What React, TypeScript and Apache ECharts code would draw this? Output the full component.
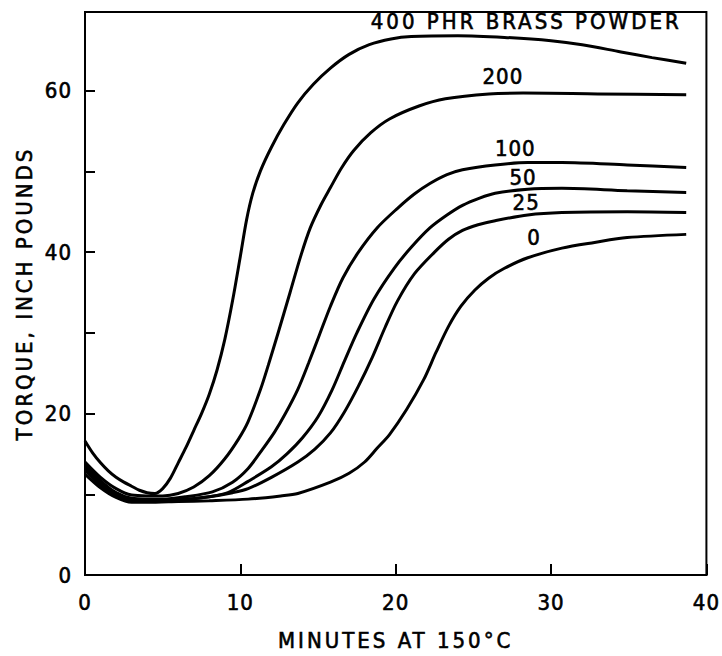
import React, { useEffect, useRef } from "react";
import * as echarts from "echarts";

// Tick values
const xTickValues = [0, 10, 20, 30, 40];
const yLabelValues = [0, 20, 40, 60];

// Curve data: [minutes, torque]
const phr400 = [
  [0, 16.6], [0.5, 15.1], [1, 13.9], [1.5, 12.9], [2, 12.1], [2.5, 11.5], [3, 11.0],
  [3.5, 10.5], [4, 10.2], [4.5, 10.1], [5, 10.7], [5.5, 12.0], [6, 13.9], [6.5, 15.8],
  [7, 17.9], [7.5, 20.0], [8, 22.4], [8.5, 25.4], [9, 29.2], [9.5, 34.0], [10, 39.5],
  [10.4, 44.0], [10.8, 47.3], [11.3, 50.1], [12, 53.0], [12.8, 55.8], [13.7, 58.5],
  [14.7, 60.8], [15.8, 62.8], [17, 64.5], [18.3, 65.7], [19.7, 66.4], [21, 66.7],
  [24, 66.8], [27, 66.6], [30, 66.2], [32, 65.7], [34.5, 64.8], [36.5, 64.1], [38.7, 63.4],
];
const phr200 = [
  [0, 14.0], [1, 12.1], [2, 10.7], [3, 9.9], [4, 9.8], [5, 9.8], [6, 10.1], [7, 10.9],
  [8, 12.3], [9, 14.4], [9.9, 16.9], [10.5, 19.0], [11.3, 23.0], [11.8, 26.0],
  [12.4, 29.8], [13.2, 35.0], [13.9, 39.6], [14.5, 43.0], [15.2, 45.9], [15.8, 48.0],
  [16.5, 50.4], [17.3, 52.6], [18.4, 54.8], [19.6, 56.5], [21.5, 58.1], [23.2, 59.0],
  [26, 59.6], [28.2, 59.7], [33, 59.6], [38.7, 59.5],
];
const phr100 = [
  [0, 13.7], [1, 11.7], [2, 10.2], [3, 9.5], [4, 9.4], [5, 9.4], [6.5, 9.7], [8.2, 10.3],
  [9.5, 11.5], [10.5, 13.2], [11.4, 15.5], [12.2, 17.7], [12.9, 20.0], [13.7, 23.0],
  [14.4, 26.3], [15.1, 29.8], [15.8, 33.3], [16.6, 36.8], [17.6, 40.0], [18.8, 43.0],
  [20.1, 45.4], [21.2, 47.2], [22.2, 48.5], [23.3, 49.6], [24.3, 50.2], [26.4, 50.8],
  [28.5, 51.1], [30.7, 51.1], [34.9, 50.8], [38.7, 50.5],
];
const phr50 = [
  [0, 13.4], [1, 11.4], [2, 10.0], [3, 9.3], [4, 9.2], [6, 9.3], [8, 9.7], [9.2, 10.2],
  [10.5, 11.6], [12, 13.4], [13, 15.0], [14, 17.0], [15, 19.6], [15.9, 22.9], [16.7, 26.5],
  [17.5, 30.0], [18.6, 34.2], [19.9, 38.0], [21, 40.6], [22.2, 43.0], [23.3, 44.6],
  [24.3, 45.8], [25.4, 46.7], [26.4, 47.3], [28.5, 47.8], [30.7, 47.9], [34.9, 47.6],
  [38.7, 47.4],
];
const phr25 = [
  [0, 13.0], [1, 11.1], [2, 9.8], [3, 9.1], [4, 9.1], [6, 9.3], [8, 9.7], [9.5, 10.2],
  [10.5, 10.7], [12, 12.1], [13.7, 14.0], [14.8, 15.6], [15.8, 17.6], [16.7, 20.2],
  [17.6, 23.4], [18.5, 27.0], [19.3, 30.6], [20.1, 33.9], [21.2, 37.3], [22.5, 40.0],
  [23.4, 41.6], [24.3, 42.7], [25.3, 43.4], [26.4, 43.9], [28.5, 44.6], [30.7, 44.9],
  [34.9, 45.0], [38.7, 44.9],
];
const phr0 = [
  [0, 12.5], [1, 10.8], [2, 9.6], [3, 9.0], [4, 9.0], [6, 9.1], [8, 9.2], [10.5, 9.4],
  [12.6, 9.8], [13.7, 10.1], [15.8, 11.5], [17, 12.6], [18, 14.0], [18.8, 15.7],
  [19.6, 17.4], [20.7, 20.5], [21.8, 24.2], [22.6, 27.6], [23.4, 30.8], [24.2, 33.3],
  [25.1, 35.3], [26, 36.8], [27, 38.0], [28.5, 39.3], [30.7, 40.5], [32.8, 41.2],
  [34.9, 41.8], [38.7, 42.2],
];

const curves = [phr400, phr200, phr100, phr50, phr25, phr0];
const curveNames = ["400", "200", "100", "50", "25", "0"];
const curveLabels = ["400 PHR BRASS POWDER", "200", "100", "50", "25", "0"];
const labelCoords = [
  [28.4, 68.6], [26.9, 61.7], [27.7, 52.8], [28.2, 49.2], [28.4, 46.1], [28.9, 41.8],
];

// Numbers use NUM_FONT; word texts use WORD_FONT (wider letter spacing via CSS)
const NUM_FONT = "DejaVu Sans Condensed";
const WORD_FONT = "'DejaVu Sans Condensed', 'Liberation Sans', sans-serif";

export default function App() {
  const ref = useRef<HTMLDivElement>(null);

  useEffect(() => {
    if (!ref.current) return;
    const chart = echarts.init(ref.current, null, { renderer: "svg" });
    const numText = { color: "#000", fontSize: 22, fontFamily: NUM_FONT };
    const wordText = { color: "#000", fontSize: 22, fontFamily: WORD_FONT };
    chart.setOption({
      animation: false,
      backgroundColor: "#fff",
      grid: {
        left: 85,
        right: 10,
        top: 12,
        bottom: 79,
        show: true,
        borderColor: "#000",
        borderWidth: 2,
        containLabel: false,
      },
      xAxis: {
        type: "value",
        min: xTickValues[0],
        max: xTickValues[xTickValues.length - 1],
        interval: 10,
        axisLine: { show: true, onZero: false, lineStyle: { color: "#000", width: 2 } },
        axisTick: { show: true, inside: true, length: 11, lineStyle: { color: "#000", width: 2 } },
        axisLabel: { ...numText, margin: 16 },
        splitLine: { show: false },
        name: "MINUTES AT 150°C",
        nameLocation: "middle",
        nameGap: 54,
        nameTextStyle: { ...wordText },
      },
      yAxis: {
        type: "value",
        min: 0,
        max: 69.75,
        interval: 10,
        axisLine: { show: true, onZero: false, lineStyle: { color: "#000", width: 2 } },
        axisTick: { show: true, inside: true, length: 10, lineStyle: { color: "#000", width: 2 } },
        axisLabel: {
          ...numText,
          margin: 13,
          formatter: (v: number) => (yLabelValues.includes(v) ? String(v) : ""),
        },
        splitLine: { show: false },
        name: "TORQUE, INCH POUNDS",
        nameLocation: "middle",
        nameGap: 50,
        nameTextStyle: { ...wordText },
      },
      series: curves.map((data, i) => ({
        type: "line",
        name: curveNames[i],
        data,
        smooth: 0.3,
        showSymbol: false,
        symbol: "none",
        lineStyle: { color: "#000", width: 3 },
        markPoint: {
          symbol: "circle",
          symbolSize: 0,
          silent: true,
          label: {
            show: true,
            position: "inside",
            formatter: curveLabels[i],
            ...(i === 0 ? wordText : numText),
          },
          data: [{ coord: labelCoords[i] }],
        },
      })),
    });
    return () => chart.dispose();
  }, []);

  return (
    <>
      <style>{`
        #torque-chart svg text { letter-spacing: 1px; stroke: #000; stroke-width: 0.6px; }
        #torque-chart svg text[style*="Liberation"] { letter-spacing: 3px; }
      `}</style>
      <div
        id="torque-chart"
        ref={ref}
        style={{ position: "fixed", left: 0, top: 0, width: 722, height: 656, background: "#fff" }}
      />
    </>
  );
}
